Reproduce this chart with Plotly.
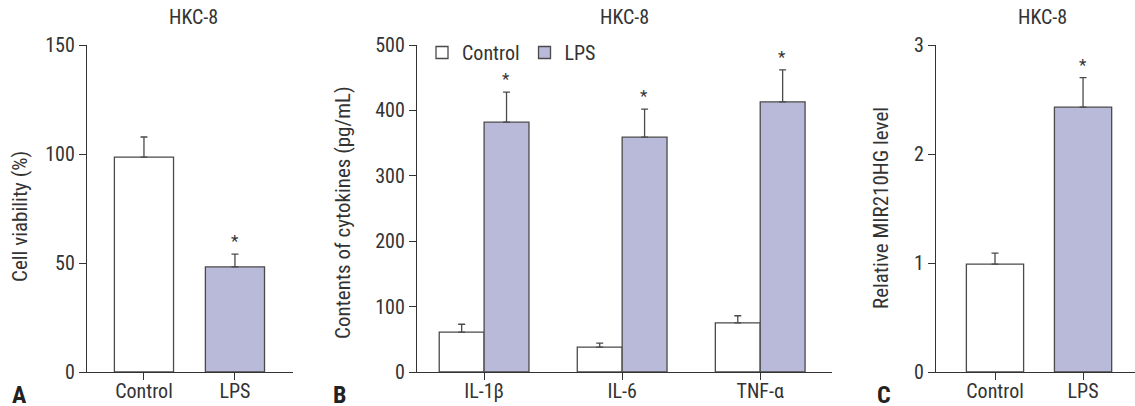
import plotly.graph_objects as go

# ---- data ----
groups = ["Control", "LPS"]
viability = [98.6, 48.2]
viability_err = [9.2, 5.9]

cytokines = ["IL-1β", "IL-6", "TNF-α"]
cyto_control = [61, 38, 75]
cyto_control_err = [12, 6, 11]
cyto_lps = [382, 359, 413]
cyto_lps_err = [46, 43, 49]

mir210hg = [0.99, 2.43]
mir210hg_err = [0.10, 0.27]

title_text = "HKC-8"
FONT = "Roboto Condensed, Liberation Sans, sans-serif"
LPS_COLOR = "#b9b9d9"
CTRL_COLOR = "#ffffff"
EDGE = "#4a4a4a"
AX = "#333333"
TXT = "#333333"

W, H = 1135, 406


def px(x):
    return x / W


def py(y):
    return (H - y) / H


def err(arr):
    return dict(type="data", symmetric=False, array=arr, arrayminus=[0] * len(arr),
                color="#4a4a4a", thickness=1.3, width=3.5)


fig = go.Figure()

# Panel A
fig.add_trace(go.Bar(x=groups, y=viability, xaxis="x", yaxis="y",
                     marker=dict(color=[CTRL_COLOR, LPS_COLOR], line=dict(color=EDGE, width=1.3)),
                     error_y=err(viability_err), showlegend=False))

# Panel B
fig.add_trace(go.Bar(x=cytokines, y=cyto_control, name="Control", xaxis="x2", yaxis="y2",
                     marker=dict(color=CTRL_COLOR, line=dict(color=EDGE, width=1.3)),
                     error_y=err(cyto_control_err), showlegend=True))
fig.add_trace(go.Bar(x=cytokines, y=cyto_lps, name="LPS", xaxis="x2", yaxis="y2",
                     marker=dict(color=LPS_COLOR, line=dict(color=EDGE, width=1.3)),
                     error_y=err(cyto_lps_err), showlegend=True))

# Panel C
fig.add_trace(go.Bar(x=groups, y=mir210hg, xaxis="x3", yaxis="y3",
                     marker=dict(color=[CTRL_COLOR, LPS_COLOR], line=dict(color=EDGE, width=1.3)),
                     error_y=err(mir210hg_err), showlegend=False))

ydom = [py(372), py(45)]
base = dict(showline=True, linecolor=AX, linewidth=1.3, ticks="outside", ticklen=7,
            tickwidth=1.3, tickcolor=AX, showgrid=False, zeroline=False, automargin=False)
xcommon = {**base, "tickfont": dict(family=FONT, size=20, color=TXT), "ticklabelstandoff": -6}
ycommon = {**base, "tickfont": dict(family=FONT, size=20, color=TXT)}

fig.update_layout(
    width=W, height=H,
    margin=dict(l=0, r=0, t=0, b=0, pad=0, autoexpand=False),
    plot_bgcolor="white", paper_bgcolor="white",
    barmode="group", bargap=0.35, bargroupgap=0,
    font=dict(family=FONT, color=TXT),
    xaxis=dict(domain=[px(87), px(293)], range=[-0.626, 1.638], anchor="y", **xcommon),
    yaxis=dict(domain=ydom, range=[0, 150], tickvals=[0, 50, 100, 150], anchor="x", **ycommon),
    xaxis2=dict(domain=[px(417), px(832)], range=[-0.486, 2.52], anchor="y2", **xcommon),
    yaxis2=dict(domain=ydom, range=[0, 500], tickvals=[0, 100, 200, 300, 400, 500], anchor="x2", **ycommon),
    xaxis3=dict(domain=[px(936), 1.0], range=[-0.67, 1.59], anchor="y3", **xcommon),
    yaxis3=dict(domain=ydom, range=[0, 3], tickvals=[0, 1, 2, 3], anchor="x3", **ycommon),
    legend=dict(orientation="h", x=px(422), y=py(33), xanchor="left", yanchor="top",
                font=dict(family=FONT, size=20, color=TXT), bgcolor="rgba(0,0,0,0)",
                itemwidth=30, tracegroupgap=0),
)

ann = []
# titles
for cx in [193, 625, 1042]:
    ann.append(dict(text=title_text, x=px(cx), y=py(17), xref="paper", yref="paper",
                    xanchor="center", yanchor="middle", showarrow=False,
                    font=dict(family=FONT, size=20, color=TXT)))
# y titles
for cx, cy, t in [(20, 217, "Cell viability (%)"),
                  (343, 213, "Contents of cytokines (pg/mL)"),
                  (881, 208, "Relative MIR210HG level")]:
    ann.append(dict(text=t, x=px(cx), y=py(cy), xref="paper", yref="paper", textangle=-90,
                    xanchor="center", yanchor="middle", showarrow=False,
                    font=dict(family=FONT, size=21, color=TXT)))
# panel letters
for cx, t in [(19, "A"), (339, "B"), (884, "C")]:
    ann.append(dict(text="<b>" + t + "</b>", x=px(cx), y=py(395), xref="paper", yref="paper",
                    xanchor="center", yanchor="middle", showarrow=False,
                    font=dict(family=FONT, size=24, color="#222222")))
# asterisks
star_font = dict(family=FONT, size=17, color=TXT)
ann.append(dict(text="*", x=groups[1], y=viability[1] + viability_err[1], xref="x", yref="y",
                yanchor="bottom", yshift=1, showarrow=False, font=star_font))
for i, c in enumerate(cytokines):
    ann.append(dict(text="*", x=c, y=cyto_lps[i] + cyto_lps_err[i], xref="x2", yref="y2",
                    xshift=22, yanchor="bottom", yshift=1, showarrow=False, font=star_font))
ann.append(dict(text="*", x=groups[1], y=mir210hg[1] + mir210hg_err[1], xref="x3", yref="y3",
                yanchor="bottom", yshift=1, showarrow=False, font=star_font))

fig.update_layout(annotations=ann)
fig.write_html("out.html", config={"displayModeBar": False},
               post_script="document.body.style.margin='0';document.body.style.overflow='hidden';")
